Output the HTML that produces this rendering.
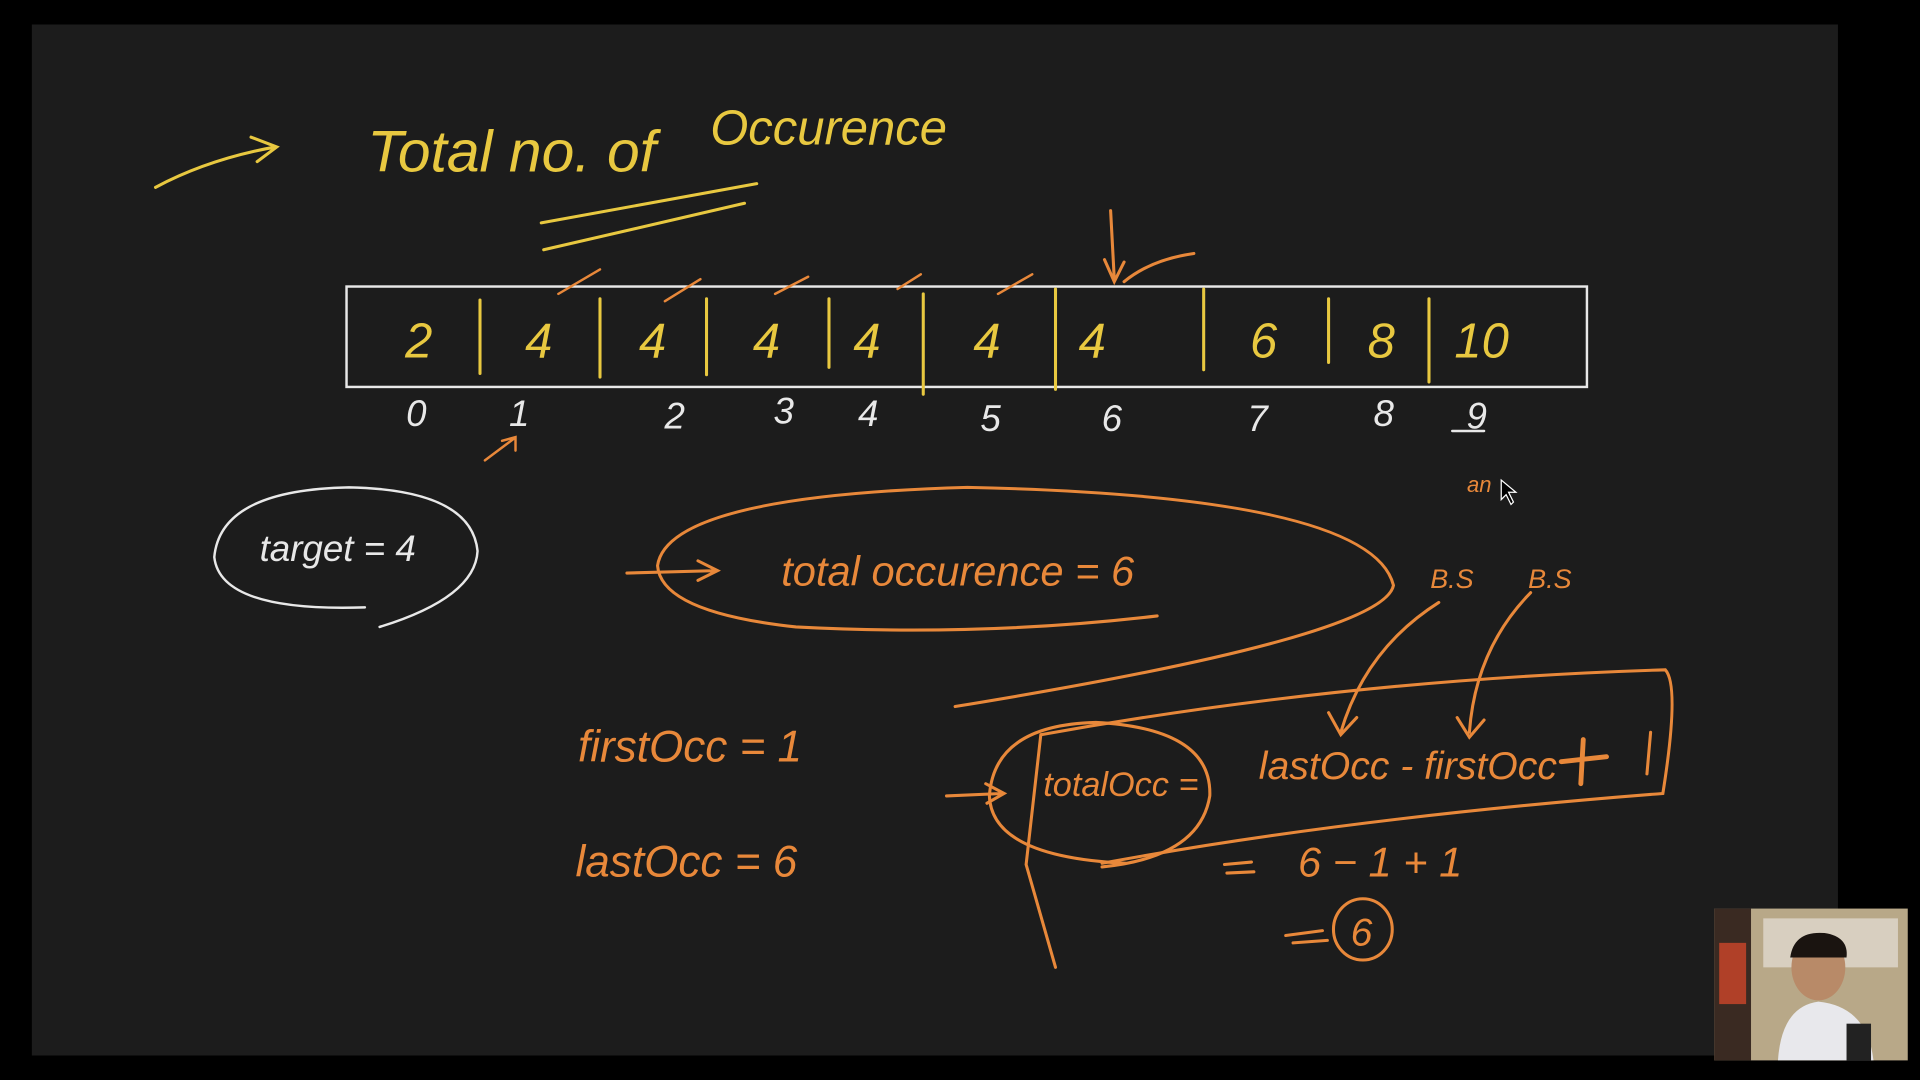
<!DOCTYPE html>
<html><head><meta charset="utf-8"><style>
html,body{margin:0;padding:0;background:#000;width:1920px;height:1080px;overflow:hidden}
svg{display:block}
text{font-family:"Liberation Sans",sans-serif;font-style:italic}
</style></head><body>
<svg width="1920" height="1080" viewBox="0 0 1568 882">
<rect x="0" y="0" width="1568" height="882" fill="#000"/>
<rect x="26" y="20" width="1475" height="842" fill="#1c1c1c"/>
<g fill="none" stroke-linecap="round" stroke-width="2.5">
<!-- title -->
<path d="M127 153 Q170 130 225 120 M205 112 L226 120 L210 132" stroke="#e8c840"/>
<path d="M442 182 L618 150 M444 204 L608 166" stroke="#e8c840"/>
<!-- array box -->
<rect x="283" y="234" width="1013" height="82" stroke="#e8e8e8" stroke-width="2"/>
<path d="M392 245V305 M490 244V308 M577 244V306 M677 244V300 M754 240V322 M862 236V318 M983 236V302 M1085 244V296 M1167 244V312" stroke="#e8c840"/>
<path d="M456 240L490 220 M543 246L572 228 M633 240L660 226 M733 236L752 224 M815 240L843 224" stroke="#e8883a" stroke-width="2"/>
<path d="M907 172 L910 228 M902 212 L910 230 L918 214 M918 230 Q940 212 975 207" stroke="#e8883a"/>
<path d="M396 376 L420 358 M410 360 L421 357 L421 368" stroke="#e8883a" stroke-width="2"/>
<path d="M1186 352 L1212 352" stroke="#e8e8e8" stroke-width="2"/>
<!-- target ellipse -->
<path d="M298 496 Q180 500 175 455 Q180 400 285 398 Q385 400 390 450 Q388 488 310 512" stroke="#e8e8e8" stroke-width="2"/>
<!-- total occurrence ellipse -->
<path d="M945 503 Q800 520 650 512 Q540 500 537 462 Q545 405 790 398 Q1120 405 1138 478 Q1130 520 780 577" stroke="#e8883a"/>
<path d="M512 468 L585 466 M570 458 L586 466 L570 474" stroke="#e8883a"/>
<!-- formula box -->
<path d="M850 600 Q1100 555 1360 547 Q1372 560 1358 648 Q1100 668 900 705 M850 600 L838 706 L862 790" stroke="#e8883a"/>
<path d="M920 705 Q810 700 808 650 Q812 592 895 590 Q990 595 988 650 Q980 700 900 708" stroke="#e8883a"/>
<path d="M773 650 L818 648 M805 640 L820 648 L806 656" stroke="#e8883a"/>
<path d="M1175 492 Q1115 530 1095 598 M1085 582 L1095 600 L1108 586 M1250 484 Q1205 530 1200 598 M1190 586 L1200 602 L1212 588" stroke="#e8883a"/>
<path d="M1275 622 L1312 618 M1293 604 L1291 640" stroke="#e8883a" stroke-width="4"/>
<path d="M1348 598 L1345 632" stroke="#e8883a"/>
<ellipse cx="1113" cy="759" rx="24" ry="25" stroke="#e8883a"/>
<path d="M1050 764 L1080 760 M1056 770 L1084 768 M1000 706 L1022 704 M1002 713 L1024 712" stroke="#e8883a"/>
<path d="M1226 392 L1226 408 L1230 404 L1234 412 L1236 410 L1232 402 L1238 402 Z" stroke="#fff" stroke-width="1" fill="#000"/>
</g>
<g fill="#e8c840" font-size="48">
<text x="300" y="140">Total no. of</text>
<text x="580" y="118" font-size="40">Occurence</text>
</g>
<g fill="#e8c840" font-size="40" text-anchor="middle">
<text x="342" y="292">2</text><text x="440" y="292">4</text><text x="533" y="292">4</text><text x="626" y="292">4</text><text x="708" y="292">4</text><text x="806" y="292">4</text><text x="892" y="292">4</text><text x="1032" y="292">6</text><text x="1128" y="292">8</text><text x="1210" y="292">10</text>
</g>
<g fill="#e8e8e8" font-size="30" text-anchor="middle">
<text x="340" y="348">0</text><text x="424" y="348">1</text><text x="551" y="350">2</text><text x="640" y="346">3</text><text x="709" y="348">4</text><text x="809" y="352">5</text><text x="908" y="352">6</text><text x="1027" y="352">7</text><text x="1130" y="348">8</text><text x="1206" y="350">9</text>
</g>
<text x="212" y="458" fill="#e8e8e8" font-size="30">target = 4</text>
<g fill="#e8883a">
<text x="1198" y="402" font-size="18">an</text>
<text x="638" y="478" font-size="34">total   occurence = 6</text>
<text x="1168" y="480" font-size="22">B.S</text>
<text x="1248" y="480" font-size="22">B.S</text>
<text x="472" y="622" font-size="36">firstOcc = 1</text>
<text x="470" y="716" font-size="36">lastOcc = 6</text>
<text x="852" y="650" font-size="28">totalOcc =</text>
<text x="1028" y="636" font-size="32">lastOcc - firstOcc</text>
<text x="1060" y="716" font-size="34">6 − 1 + 1</text>
<text x="1103" y="772" font-size="32">6</text>
</g>
<g>
<rect x="1400" y="742" width="158" height="124" fill="#b8a888"/>
<rect x="1400" y="742" width="30" height="124" fill="#3a2a22"/>
<rect x="1404" y="770" width="22" height="50" fill="#b04028"/>
<rect x="1440" y="750" width="110" height="40" fill="#d8cfc0"/>
<ellipse cx="1485" cy="790" rx="22" ry="27" fill="#b88a68"/>
<path d="M1462 782 Q1465 760 1490 762 Q1510 765 1508 782 Z" fill="#1a1410"/>
<path d="M1452 866 Q1455 822 1485 818 Q1525 822 1530 866 Z" fill="#e8e8ec"/>
<rect x="1508" y="836" width="20" height="30" fill="#222"/>
</g>
</svg>
</body></html>
